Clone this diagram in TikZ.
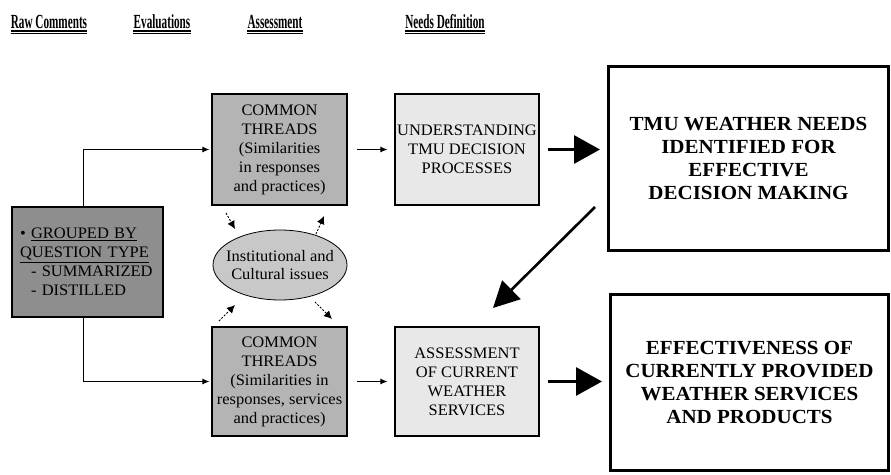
\documentclass[tikz,border=0pt]{standalone}
\usepackage{fontspec}
\setmainfont{Liberation Serif}
\newfontfamily\headfont[FakeStretch=0.56]{Liberation Serif}
\newfontfamily\bigfont[FakeStretch=1.05]{Liberation Serif}
\newfontfamily\boxfont[FakeStretch=1.03]{Liberation Serif}
\usetikzlibrary{arrows.meta,shapes.geometric,calc}
\definecolor{grpfill}{RGB}{142,142,142}
\definecolor{ctfill}{RGB}{180,180,180}
\definecolor{asfill}{RGB}{232,232,232}
\definecolor{ellfill}{RGB}{200,200,200}
\begin{document}
\begin{tikzpicture}[x=1pt,y=-1pt,
  head/.style={anchor=base,inner sep=0pt,font=\headfont\bfseries\fontsize{20}{22}\selectfont},
  smallbox/.style={draw,line width=1.2pt,align=center,inner sep=0pt,font=\boxfont\fontsize{16}{19}\selectfont},
  bigbox/.style={draw,line width=3pt,align=center,inner sep=0pt,font=\bigfont\bfseries\fontsize{20}{23}\selectfont},
  thinarrow/.style={line width=1pt,-{Latex[length=7pt,width=6pt]}},
  bigarrow/.style={line width=3pt,-{Triangle[length=26pt,width=28pt]}},
  dasharrow/.style={line width=0.9pt,dash pattern=on 2pt off 1.5pt,-{Latex[length=8pt,width=8pt]}}
]
\useasboundingbox (0,0) rectangle (891,474);

% headers
\node[head] (h1) at (49,28) {Raw Comments};
\node[head] (h2) at (162,28) {Evaluations};
\node[head] (h3) at (275,28) {Assessment};
\node[head] (h4) at (445,28) {Needs Definition};
\foreach \h in {h1,h2,h3,h4}{
  \draw[line width=1.1pt] ([yshift=-3pt]\h.base west) -- ([yshift=-3pt]\h.base east);
  \draw[line width=0.9pt] ([yshift=-5.5pt]\h.base west) -- ([yshift=-5.5pt]\h.base east);
}

% boxes
\node[smallbox,fill=grpfill,minimum width=151,minimum height=110,text width=135,align=left] (grp) at (87.5,262)
  {\mbox{• \underline{GROUPED BY}}\\\mbox{\underline{QUESTION TYPE}}\\\mbox{\hspace*{11pt}- SUMMARIZED}\\\mbox{\hspace*{11pt}- DISTILLED}};

\node[smallbox,fill=ctfill,minimum width=135,minimum height=111] (ct1) at (279.5,149.5)
  {COMMON\\THREADS\\(Similarities\\in responses\\and practices)};
\node[smallbox,fill=asfill,minimum width=144,minimum height=111] (und) at (467,149.5)
  {UNDERSTANDING\\TMU DECISION\\PROCESSES};
\node[smallbox,fill=ctfill,minimum width=135,minimum height=109] (ct2) at (279.5,381.5)
  {COMMON\\THREADS\\(Similarities in\\responses, services\\and practices)};
\node[smallbox,fill=asfill,minimum width=144,minimum height=109] (ass) at (467,381.5)
  {ASSESSMENT\\OF CURRENT\\WEATHER\\SERVICES};

\node[ellipse,draw,line width=0.8pt,fill=ellfill,minimum width=134,minimum height=70,inner sep=0pt,align=center,font=\boxfont\fontsize{16}{18}\selectfont] (ell) at (280,265)
  {\makebox[0pt]{Institutional and}\\\makebox[0pt]{Cultural issues}};

\node[bigbox,minimum width=280,minimum height=184] (n1) at (748.5,158.5)
  {TMU WEATHER NEEDS\\IDENTIFIED FOR\\EFFECTIVE\\DECISION MAKING};
\node[bigbox,minimum width=278,minimum height=176] (n2) at (749.5,382.5)
  {EFFECTIVENESS OF\\CURRENTLY PROVIDED\\WEATHER SERVICES\\AND PRODUCTS};

% connectors from grouped box
\draw[thinarrow] ([xshift=-4pt]grp.north) |- ([xshift=-2pt]ct1.west);
\draw[thinarrow] ([xshift=-4pt]grp.south) |- ([xshift=-2pt]ct2.west);

% evaluation to assessment
\draw[thinarrow,shorten <=9pt,shorten >=7pt] (ct1.east) -- (und.west);
\draw[thinarrow,shorten <=9pt,shorten >=7pt] (ct2.east) -- (ass.west);

% big arrows (horizontal)
\draw[bigarrow,shorten <=8pt,shorten >=7pt] (und.east) -- (und.east -| n1.west);
\draw[bigarrow,shorten <=8pt,shorten >=7pt] (ass.east) -- (ass.east -| n2.west);
\coordinate (dtail) at (595,207);
\coordinate (dtip) at (493,308);
\draw[line width=2.6pt,-{Triangle[length=26pt,width=26pt]}] (dtail) -- (dtip);

% dashed arrows around ellipse
\coordinate (a1s) at (226,213); \coordinate (a1e) at (235,229);
\coordinate (a2s) at (316,234); \coordinate (a2e) at (324,216);
\coordinate (a3s) at (219,321); \coordinate (a3e) at (235,305);
\coordinate (a4s) at (315,302); \coordinate (a4e) at (332,319);
\draw[dasharrow] (a1s) -- (a1e);
\draw[dasharrow] (a2s) -- (a2e);
\draw[dasharrow] (a3s) -- (a3e);
\draw[dasharrow] (a4s) -- (a4e);
\end{tikzpicture}
\end{document}
